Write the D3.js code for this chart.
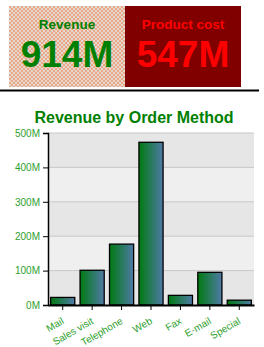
<!DOCTYPE html>
<html>
<head>
<meta charset="utf-8">
<script src="https://cdn.jsdelivr.net/npm/d3@7/dist/d3.min.js"></script>
<style>
  body { margin: 0; background: #fff; }
  svg { display: block; font-family: "Liberation Sans", Arial, sans-serif; }
</style>
</head>
<body>
<svg id="chart"></svg>
<script>
// KPI tiles
const kpiLabels = ['Revenue', 'Product cost'];
const kpiValues = ['914M', '547M'];

// bar chart
const methods = ['Mail', 'Sales visit', 'Telephone', 'Web', 'Fax', 'E-mail', 'Special'];
const revenue = [22, 101, 177, 473, 28, 95, 14]; // millions
const yTicks = [0, 100, 200, 300, 400, 500];

const width = 264, height = 347;
const svg = d3.select('#chart').attr('width', width).attr('height', height);
const defs = svg.append('defs');

// checker fill for the revenue tile
const pat = defs.append('pattern')
  .attr('id', 'checker')
  .attr('width', 4).attr('height', 4)
  .attr('patternUnits', 'userSpaceOnUse');
pat.append('rect').attr('width', 4).attr('height', 4).attr('fill', '#e4d8ce');
pat.append('rect').attr('width', 2).attr('height', 2).attr('fill', '#eaa888');
pat.append('rect').attr('x', 2).attr('y', 2).attr('width', 2).attr('height', 2).attr('fill', '#eaa888');

const grad = defs.append('linearGradient').attr('id', 'barGrad')
  .attr('x1', '0%').attr('x2', '100%').attr('y1', '0%').attr('y2', '0%');
grad.append('stop').attr('offset', '0%').attr('stop-color', '#007a10');
grad.append('stop').attr('offset', '100%').attr('stop-color', '#4f7aa8');

// --- KPI tiles ---
const tileX = d3.scaleBand().domain(kpiLabels).range([9, 241]);
const tileFill = ['url(#checker)', '#800000'];
const tileText = ['#008000', '#ff0000'];

const tiles = svg.selectAll('.tile').data(kpiLabels).join('g')
  .attr('class', 'tile')
  .attr('transform', d => `translate(${tileX(d)},6)`);
tiles.append('rect')
  .attr('width', tileX.bandwidth()).attr('height', 81)
  .attr('fill', (d, i) => tileFill[i]);
tiles.append('text')
  .attr('x', tileX.bandwidth() / 2).attr('y', 23)
  .attr('text-anchor', 'middle')
  .style('font-size', '13.5px').style('font-weight', 'bold')
  .attr('fill', (d, i) => tileText[i])
  .text(d => d);
tiles.append('text')
  .attr('x', tileX.bandwidth() / 2).attr('y', 61)
  .attr('text-anchor', 'middle')
  .style('font-size', '37px').style('font-weight', 'bold')
  .attr('fill', (d, i) => tileText[i])
  .text((d, i) => kpiValues[i]);

svg.append('line')
  .attr('x1', 0).attr('x2', 259).attr('y1', 90.5).attr('y2', 90.5)
  .attr('stroke', '#000').attr('stroke-width', 2);

// --- bar chart ---
svg.append('text')
  .attr('x', 134).attr('y', 123)
  .attr('text-anchor', 'middle')
  .style('font-size', '16px').style('font-weight', 'bold')
  .attr('fill', '#008000')
  .text('Revenue by Order Method');

const margin = { left: 48, right: 10, top: 133, bottom: 42 };
const x = d3.scaleBand().domain(methods)
  .range([margin.left, width - margin.right]).paddingInner(0.18).paddingOuter(0.09);
const y = d3.scaleLinear().domain([0, 500]).range([height - margin.bottom, margin.top]);

// alternating bands
svg.selectAll('.band').data(yTicks.slice(0, -1)).join('rect')
  .attr('class', 'band')
  .attr('x', margin.left).attr('width', width - margin.right - margin.left)
  .attr('y', d => y(d + 100)).attr('height', d => y(d) - y(d + 100))
  .attr('fill', (d, i) => i % 2 ? '#efefef' : '#e6e6e6');

svg.selectAll('.grid').data(yTicks.slice(1)).join('line')
  .attr('class', 'grid')
  .attr('x1', margin.left).attr('x2', width - margin.right)
  .attr('y1', d => y(d)).attr('y2', d => y(d))
  .attr('stroke', '#c8c8c8').attr('stroke-width', 1);

svg.selectAll('.bar').data(methods).join('rect')
  .attr('class', 'bar')
  .attr('x', d => x(d)).attr('width', x.bandwidth())
  .attr('y', (d, i) => y(revenue[i]))
  .attr('height', (d, i) => y(0) - y(revenue[i]))
  .attr('fill', 'url(#barGrad)')
  .attr('stroke', '#000').attr('stroke-width', 1.3);

const yAxis = svg.append('g')
  .attr('transform', `translate(${margin.left},0)`)
  .call(d3.axisLeft(y).tickValues(yTicks).tickFormat(d => d + 'M').tickSize(5).tickPadding(3));
yAxis.select('.domain').attr('stroke-width', 1.5);
yAxis.selectAll('text').attr('fill', '#2ea02e').style('font-size', '10px')
  .style('font-family', '"Liberation Sans", Arial, sans-serif');

const xAxis = svg.append('g')
  .attr('transform', `translate(0,${y(0)})`)
  .call(d3.axisBottom(x).tickSize(5).tickSizeOuter(0));
xAxis.select('.domain').attr('stroke-width', 2);
xAxis.selectAll('text')
  .attr('fill', '#2ea02e').style('font-size', '10px')
  .style('font-family', '"Liberation Sans", Arial, sans-serif')
  .attr('text-anchor', 'end')
  .attr('dy', 0).attr('y', 0)
  .attr('transform', 'translate(2,18) rotate(-30)');
</script>
</body>
</html>
